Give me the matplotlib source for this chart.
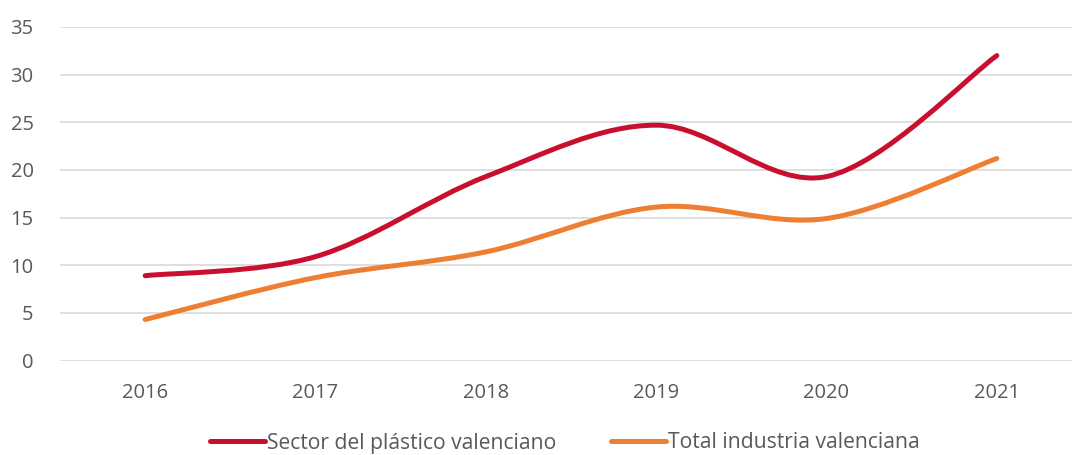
import numpy as np
import matplotlib.pyplot as plt
from matplotlib.path import Path
from matplotlib.patches import PathPatch
from matplotlib.lines import Line2D

years = ["2016", "2017", "2018", "2019", "2020", "2021"]
plastico = [8.9, 10.9, 19.3, 24.7, 19.3, 32.0]
industria = [4.3, 8.7, 11.4, 16.1, 14.9, 21.2]

RED = "#C8102E"
ORANGE = "#EE7E32"
GREY = "#595959"

plt.rcParams['font.family'] = ['Open Sans', 'DejaVu Sans']


def smooth_path(xs, ys):
    # Catmull-Rom style bezier like Excel's "smoothed line"
    pts = np.column_stack([xs, ys]).astype(float)
    n = len(pts)
    verts = [pts[0]]
    codes = [Path.MOVETO]
    for i in range(n - 1):
        p0 = pts[max(i - 1, 0)]
        p1 = pts[i]
        p2 = pts[i + 1]
        p3 = pts[min(i + 2, n - 1)]
        c1 = p1 + (p2 - p0) / 6.0
        c2 = p2 - (p3 - p1) / 6.0
        verts += [c1, c2, p2]
        codes += [Path.CURVE4] * 3
    return Path(verts, codes)


fig = plt.figure(figsize=(10.72, 4.55), dpi=100)
ax = fig.add_axes([60 / 1072, 1 - 360.5 / 455, 1022 / 1072, 333.5 / 455])

x = np.arange(len(years))
for vals, col in [(plastico, RED), (industria, ORANGE)]:
    patch = PathPatch(smooth_path(x, vals), facecolor="none", edgecolor=col,
                      lw=3.6, capstyle="round", joinstyle="round", zorder=3)
    ax.add_patch(patch)

ax.set_xlim(-0.5, 5.5)
ax.set_ylim(0, 35)
ax.set_yticks(range(0, 36, 5))
ax.set_xticks(x)
ax.set_xticklabels(years)
ax.grid(axis="y", color="#D9D9D9", lw=1.2)
ax.set_axisbelow(True)
for s in ax.spines.values():
    s.set_visible(False)
ax.tick_params(length=0, colors=GREY, labelsize=14.5)
ax.tick_params(axis="y", pad=19)
ax.tick_params(axis="x", pad=16)

handles = [Line2D([], [], color=RED, lw=3.6, solid_capstyle="round"),
           Line2D([], [], color=ORANGE, lw=3.6, solid_capstyle="round")]
fig.legend(handles, ["Sector del plástico valenciano", "Total industria valenciana"],
           loc="center", bbox_to_anchor=(565 / 1072, 1 - 443 / 455), ncol=2,
           frameon=False, fontsize=15.2, labelcolor=GREY, handlelength=2.6,
           handletextpad=0.1, columnspacing=2.6)

fig.savefig("out.png", dpi=100)
